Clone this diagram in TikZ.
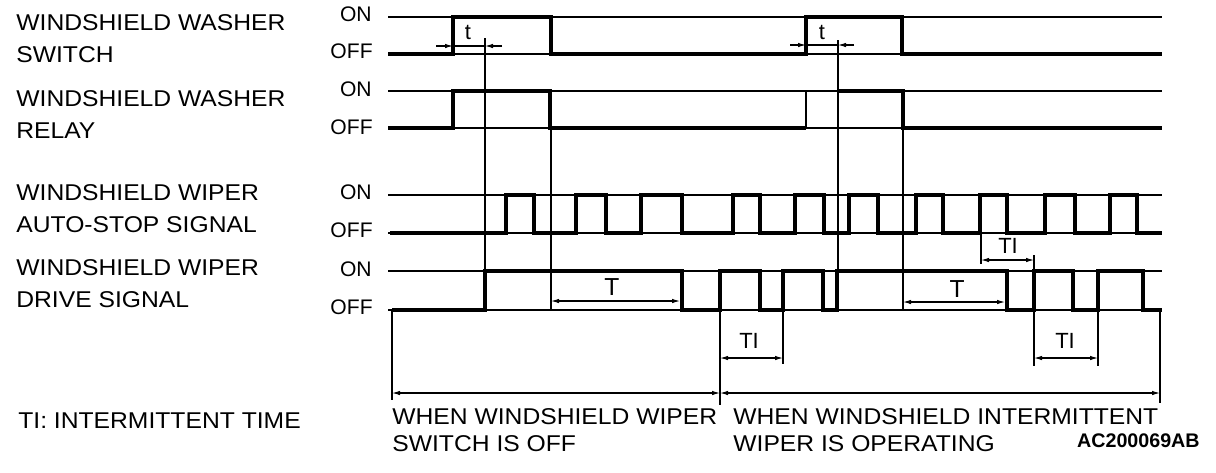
\documentclass[tikz,border=0pt]{standalone}
\usepackage{fontspec}
\setmainfont{Liberation Sans}
\newfontfamily\descfont{Liberation Sans}[FakeStretch=1.08]
\usetikzlibrary{positioning,arrows.meta}

\begin{document}
\begin{tikzpicture}[x=0.2mm, y=-0.2mm,
    level/.style={line width=0.6pt},
    wave/.style={line width=1.9pt},
    guide/.style={line width=0.6pt},
    heavy guide/.style={line width=1.4pt},
    tip/.style={-{Latex[length=1.6mm,width=0.9mm]}},
    dim/.style={line width=0.6pt, {Latex[length=1.6mm,width=0.9mm]}-{Latex[length=1.6mm,width=0.9mm]}},
    sig/.style={font=\descfont\fontsize{13}{18.2}\selectfont, align=left, anchor=west, inner sep=0pt},
    case/.style={font=\descfont\fontsize{13}{15.1}\selectfont, align=left, anchor=west, inner sep=0pt},
    onoff/.style={font=\fontsize{12}{13}\selectfont, anchor=east, inner sep=0pt},
    dimlabel/.style={font=\fontsize{14}{15}\selectfont, inner sep=0pt},
    smalldim/.style={font=\fontsize{12.5}{14}\selectfont, inner sep=0pt}
]
\useasboundingbox (0,0) rectangle (1216,472);

\node[sig] (washsw) at (16,39) {WINDSHIELD WASHER\\SWITCH};
\node[sig] (washrl) at (16,115) {WINDSHIELD WASHER\\RELAY};
\node[sig] (autostop) at (16,209) {WINDSHIELD WIPER\\AUTO-STOP SIGNAL};
\node[sig] (drive) at (16,284) {WINDSHIELD WIPER\\DRIVE SIGNAL};

\node[onoff] (on1) at (372,14) {ON};
\node[onoff] (off1) at (373,51) {OFF};
\node[onoff] (on2) at (372,89) {ON};
\node[onoff] (off2) at (373,127) {OFF};
\node[onoff] (on3) at (372,192) {ON};
\node[onoff] (off3) at (373,230) {OFF};
\node[onoff] (on4) at (372,269) {ON};
\node[onoff] (off4) at (373,307) {OFF};

\foreach \y in {17,54,91,128,195,233,271,310}
  \draw[level] (388,\y) -- (1162,\y);

\draw[wave] (388,54) -- (453,54) -- (453,17) -- (551,17) -- (551,54) -- (806,54)
  -- (806,17) -- (902,17) -- (902,54) -- (1162,54);

\draw[wave] (388,128) -- (453,128) -- (453,91) -- (550,91) -- (550,128) -- (806,128);
\draw[guide] (806,128) -- (806,91);
\draw[wave] (838,91) -- (903,91) -- (903,128) -- (1162,128);

\draw[wave] (390,233)
  \foreach \a/\b in {506/534,576/606,641/682,733/760,795/824,849/878,916/943,980/1007,1045/1075,1110/1137}
    { -- (\a,233) -- (\a,195) -- (\b,195) -- (\b,233) } -- (1162,233);

\draw[wave] (392,310) -- (485,310) -- (485,271) -- (682,271) -- (682,310) -- (720,310)
  -- (720,271) -- (760,271) -- (760,310) -- (783,310) -- (783,271) -- (823,271)
  -- (823,310) -- (837,310) -- (837,271) -- (1007,271) -- (1007,310) -- (1034,310)
  -- (1034,271) -- (1073,271) -- (1073,310) -- (1098,310) -- (1098,271) -- (1143,271)
  -- (1143,310) -- (1162,310);

\draw[guide] (485,38) -- (485,310);
\draw[guide] (551,128) -- (551,310);
\draw[guide] (903,128) -- (903,310);
\draw[heavy guide] (838,40) -- (838,310);
\draw[guide] (392,310) -- (392,400);
\draw[heavy guide] (720,271) -- (720,405);
\draw[guide] (783,310) -- (783,364);
\draw[guide] (981,233) -- (981,264);
\draw[guide] (1034,255) -- (1034,366);
\draw[guide] (1098,310) -- (1098,366);
\draw[heavy guide] (1160,310) -- (1160,403);

\draw[guide] (453,46) -- (485,46);
\draw[guide, tip] (436,46) -- (453,46);
\draw[guide, tip] (502,46) -- (485,46);
\node[smalldim] (t1) at (468,32) {t};

\draw[guide] (806,45) -- (838,45);
\draw[guide, tip] (790,45) -- (806,45);
\draw[guide, tip] (854,45) -- (838,45);
\node[smalldim] (t2) at (822,32) {t};

\draw[dim] (551,301) -- (680,301);
\node[dimlabel] (T1) at (612,287) {T};
\draw[dim] (903,302) -- (1005,302);
\node[dimlabel] (T2) at (957,289) {T};

\draw[dim] (981,260) -- (1034,260);
\node[smalldim] (TI1) at (1008,246) {TI};
\draw[dim] (720,358) -- (783,358);
\node[smalldim] (TI2) at (749,341) {TI};
\draw[dim] (1034,358) -- (1098,358);
\node[smalldim] (TI3) at (1065,341) {TI};

\draw[dim] (392,393) -- (720,393);
\draw[dim] (720,393) -- (1160,393);

\node[case] (legend) at (18,421) {TI: INTERMITTENT TIME};
\node[case] (offcase) at (392,430) {WHEN WINDSHIELD WIPER\\SWITCH IS OFF};
\node[case] (opcase) at (733,430) {WHEN WINDSHIELD INTERMITTENT\\WIPER IS OPERATING};
\node[font=\bfseries\fontsize{11.2}{12}\selectfont, anchor=east, inner sep=0pt] (figid) at (1200,441) {AC200069AB};

\end{tikzpicture}
\end{document}
